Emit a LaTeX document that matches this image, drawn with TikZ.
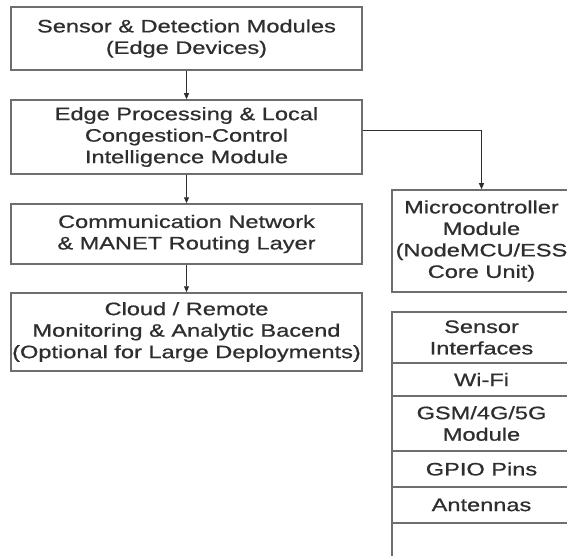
\documentclass[tikz,border=0pt]{standalone}
\usepackage{fontspec}
\newfontfamily\diagfont{Liberation Sans}[FakeStretch=1.31,FakeBold=0.8]
\usepackage{tikz}
\usetikzlibrary{arrows.meta}
\definecolor{edgegray}{HTML}{6E6E6E}
\definecolor{inkgray}{HTML}{2E2E2E}

\begin{document}
\begin{tikzpicture}[
    x=1pt, y=-1pt,
    >={Triangle[length=6pt,width=5pt]},
    box/.style={draw=edgegray, line width=1.5pt, minimum width=351pt, align=center, inner sep=0pt, text=inkgray, font=\diagfont\fontsize{18}{21.5}\selectfont},
    unit/.style={box, minimum width=179pt},
    arrow/.style={->, line width=0.9pt, draw=inkgray}
]
\useasboundingbox (0,0) rectangle (567,556);

% ---- Main chain ----
\node[box, minimum height=63pt] (sensors) at (186.5,38.5) {Sensor \& Detection Modules\\(Edge Devices)};
\node[box, minimum height=74pt] (edge) at (186.5,137) {Edge Processing \& Local\\Congestion-Control\\Intelligence Module};
\node[box, minimum height=60pt] (comm) at (186.5,234) {Communication Network\\\& MANET Routing Layer};
\node[box, minimum height=78pt] (cloud) at (186.5,332) {Cloud / Remote\\Monitoring \& Analytic Bacend\\(Optional for Large Deployments)};

% ---- Microcontroller ----
\node[unit, minimum height=102pt] (micro) at (481.5,241) {Microcontroller\\Module\\(NodeMCU/ESS\\Core Unit)};

% ---- Hardware stack ----
\node[unit, minimum height=51pt] (sens) at (481.5,337.5) {Sensor\\Interfaces};
\node[unit, minimum height=33pt] (wifi) at (481.5,379.5) {Wi-Fi};
\node[unit, minimum height=55pt] (gsm) at (481.5,423.5) {GSM/4G/5G\\Module};
\node[unit, minimum height=36pt] (gpio) at (481.5,469) {GPIO Pins};
\node[unit, minimum height=36pt] (ant) at (481.5,505) {Antennas};
\node[unit, minimum height=37pt] (spare) at (481.5,541.5) {};

% ---- Arrows ----
\draw[arrow] (sensors) -- (edge);
\draw[arrow] (edge) -- (comm);
\draw[arrow] (comm) -- (cloud);
\draw[arrow] ([yshift=7pt]edge.east) -| (micro.north);

\end{tikzpicture}
\end{document}
